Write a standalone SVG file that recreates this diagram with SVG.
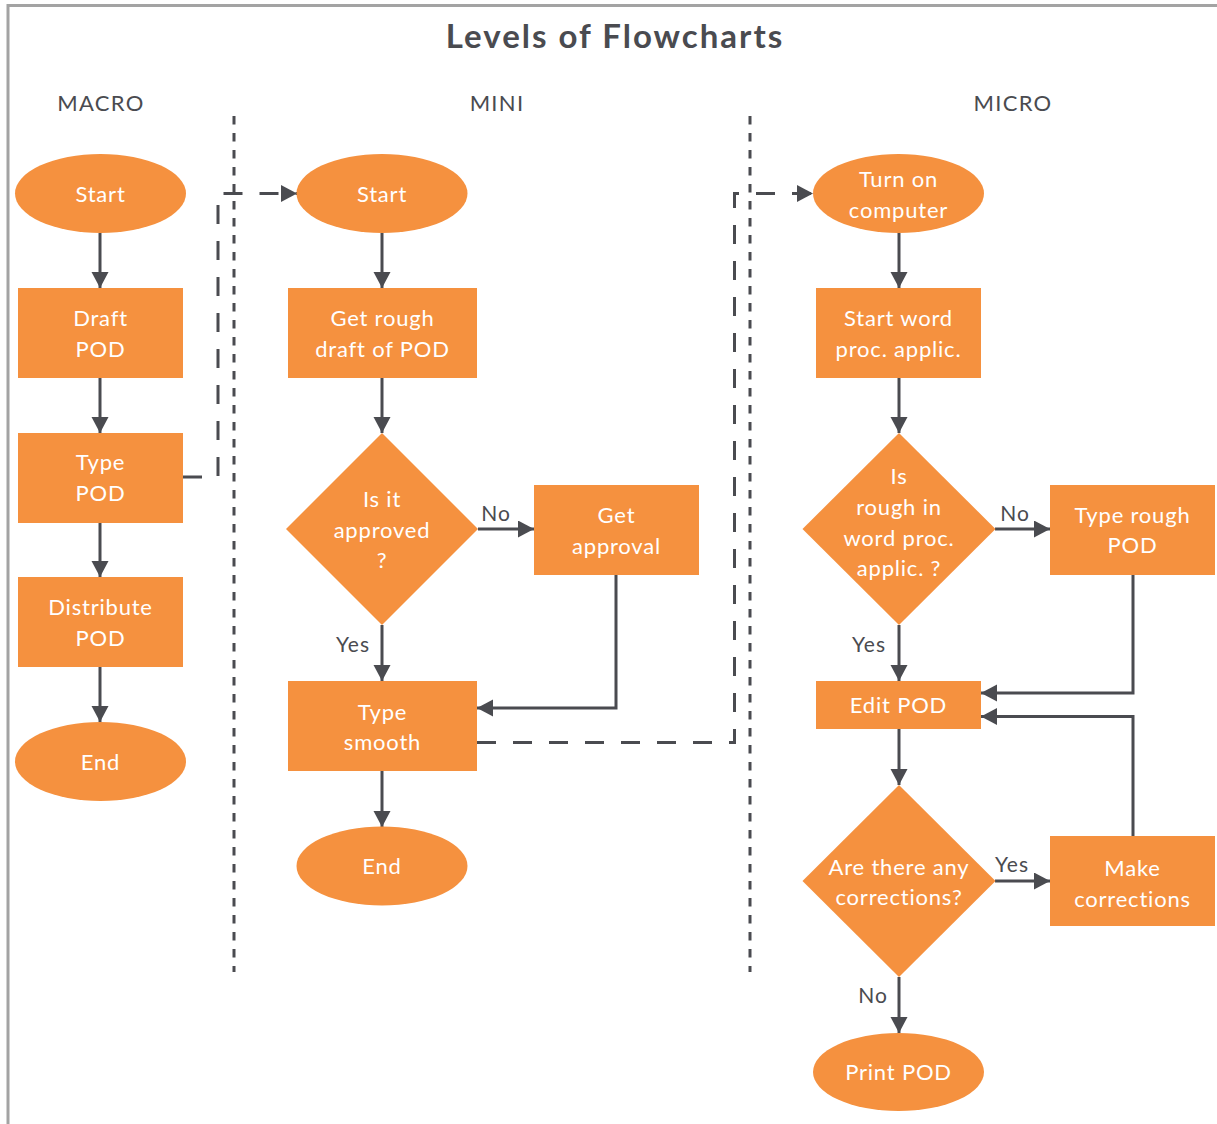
<svg xmlns="http://www.w3.org/2000/svg" width="1217" height="1124" viewBox="0 0 1217 1124">
  <style>
    .shape { fill: #F5913F; }
    .lbl { font-family: Lato, "Open Sans", sans-serif; font-size: 22px; letter-spacing: 0.8px; fill: #ffffff; text-anchor: middle; }
    .cap { font-family: Lato, "Open Sans", sans-serif; font-size: 22px; letter-spacing: 1.3px; fill: #4a4b50; text-anchor: middle; }
    .edge-lbl { font-family: Lato, "Open Sans", sans-serif; font-size: 21px; letter-spacing: 1px; fill: #4a4b50; text-anchor: middle; }
    .title { font-family: Lato, "Open Sans", sans-serif; font-size: 33px; letter-spacing: 2px; font-weight: bold; fill: #4a4b50; text-anchor: middle; }
    .flow { fill: none; stroke: #4a4b50; stroke-width: 3; marker-end: url(#arrow); }
    .jump { fill: none; stroke: #4a4b50; stroke-width: 3; stroke-dasharray: 19 17; marker-end: url(#arrow); }
    .divider { fill: none; stroke: #4a4b50; stroke-width: 3; stroke-dasharray: 8.5 8.5; }
    .frame { fill: none; stroke: #a3a3a3; stroke-width: 3; }
  </style>
  <defs>
    <marker id="arrow" markerUnits="userSpaceOnUse" markerWidth="17" markerHeight="18" refX="16" refY="8.5" orient="auto">
      <path d="M0,0 L16,8.5 L0,17 z" fill="#4a4b50"/>
    </marker>
  </defs>

  <rect width="1217" height="1124" fill="#ffffff"/>

  <!-- page frame (top and left rules) -->
  <path class="frame" d="M8,1124 V5.5 H1217"/>

  <!-- headings -->
  <text class="title" x="615" y="48">Levels of Flowcharts</text>
  <text class="cap" x="101" y="111">MACRO</text>
  <text class="cap" x="497" y="111">MINI</text>
  <text class="cap" x="1013" y="111">MICRO</text>

  <!-- column dividers -->
  <g id="dividers">
    <line class="divider" x1="234" y1="116" x2="234" y2="972"/>
    <line class="divider" x1="750" y1="116" x2="750" y2="972"/>
  </g>

  <!-- connectors -->
  <g id="connectors">
    <!-- macro -->
    <line class="flow" x1="100" y1="233" x2="100" y2="288"/>
    <line class="flow" x1="100" y1="378" x2="100" y2="433"/>
    <line class="flow" x1="100" y1="523" x2="100" y2="577"/>
    <line class="flow" x1="100" y1="667" x2="100" y2="722"/>
    <path class="jump" d="M183,477 H218 V193.5 H297"/>
    <!-- mini -->
    <line class="flow" x1="382" y1="233" x2="382" y2="288"/>
    <line class="flow" x1="382" y1="378" x2="382" y2="433"/>
    <line class="flow" x1="478" y1="529" x2="534" y2="529"/>
    <line class="flow" x1="382" y1="625" x2="382" y2="681"/>
    <path class="flow" d="M616,575 V708 H477"/>
    <line class="flow" x1="382" y1="771" x2="382" y2="827"/>
    <path class="jump" d="M477,742.5 H734.5 V193.5 H813"/>
    <!-- micro -->
    <line class="flow" x1="899" y1="233" x2="899" y2="288"/>
    <line class="flow" x1="899" y1="378" x2="899" y2="433"/>
    <line class="flow" x1="995" y1="529" x2="1050" y2="529"/>
    <line class="flow" x1="899" y1="625" x2="899" y2="681"/>
    <path class="flow" d="M1133,575 V693 H981"/>
    <line class="flow" x1="899" y1="729" x2="899" y2="785"/>
    <line class="flow" x1="995" y1="881" x2="1050" y2="881"/>
    <path class="flow" d="M1133,836 V716.5 H981"/>
    <line class="flow" x1="899" y1="977" x2="899" y2="1033"/>

    <text class="edge-lbl" x="496" y="521">No</text>
    <text class="edge-lbl" x="353" y="652">Yes</text>
    <text class="edge-lbl" x="1015" y="521">No</text>
    <text class="edge-lbl" x="869" y="652">Yes</text>
    <text class="edge-lbl" x="1012" y="872">Yes</text>
    <text class="edge-lbl" x="873" y="1003">No</text>
  </g>

  <!-- macro nodes -->
  <g id="macro-start">
    <ellipse class="shape" cx="100.5" cy="193.5" rx="85.5" ry="39.5"/>
    <text class="lbl" x="100.5" y="201.5">Start</text>
  </g>
  <g id="macro-draft">
    <rect class="shape" x="18" y="288" width="165" height="90"/>
    <text class="lbl" x="100.5" y="326">Draft</text>
    <text class="lbl" x="100.5" y="357">POD</text>
  </g>
  <g id="macro-type">
    <rect class="shape" x="18" y="433" width="165" height="90"/>
    <text class="lbl" x="100.5" y="470">Type</text>
    <text class="lbl" x="100.5" y="501">POD</text>
  </g>
  <g id="macro-distribute">
    <rect class="shape" x="18" y="577" width="165" height="90"/>
    <text class="lbl" x="100.5" y="615">Distribute</text>
    <text class="lbl" x="100.5" y="646">POD</text>
  </g>
  <g id="macro-end">
    <ellipse class="shape" cx="100.5" cy="761.5" rx="85.5" ry="39.5"/>
    <text class="lbl" x="100.5" y="769.5">End</text>
  </g>

  <!-- mini nodes -->
  <g id="mini-start">
    <ellipse class="shape" cx="382" cy="193.5" rx="85.5" ry="39.5"/>
    <text class="lbl" x="382" y="201.5">Start</text>
  </g>
  <g id="mini-rough">
    <rect class="shape" x="288" y="288" width="189" height="90"/>
    <text class="lbl" x="382.5" y="326">Get rough</text>
    <text class="lbl" x="382.5" y="357">draft of POD</text>
  </g>
  <g id="mini-approved">
    <polygon class="shape" points="382,433 478,529 382,625 286,529"/>
    <text class="lbl" x="382" y="507">Is it</text>
    <text class="lbl" x="382" y="538">approved</text>
    <text class="lbl" x="382" y="568">?</text>
  </g>
  <g id="mini-get-approval">
    <rect class="shape" x="534" y="485" width="165" height="90"/>
    <text class="lbl" x="616.5" y="523">Get</text>
    <text class="lbl" x="616.5" y="554">approval</text>
  </g>
  <g id="mini-type-smooth">
    <rect class="shape" x="288" y="681" width="189" height="90"/>
    <text class="lbl" x="382.5" y="720">Type</text>
    <text class="lbl" x="382.5" y="750">smooth</text>
  </g>
  <g id="mini-end">
    <ellipse class="shape" cx="382" cy="866" rx="85.5" ry="39.5"/>
    <text class="lbl" x="382" y="874">End</text>
  </g>

  <!-- micro nodes -->
  <g id="micro-turn-on">
    <ellipse class="shape" cx="898.5" cy="193.5" rx="85.5" ry="39.5"/>
    <text class="lbl" x="898.5" y="187">Turn on</text>
    <text class="lbl" x="898.5" y="218">computer</text>
  </g>
  <g id="micro-start-wp">
    <rect class="shape" x="816" y="288" width="165" height="90"/>
    <text class="lbl" x="898.5" y="326">Start word</text>
    <text class="lbl" x="898.5" y="357">proc. applic.</text>
  </g>
  <g id="micro-in-wp">
    <polygon class="shape" points="899,433 995.5,529 899,625 802.5,529"/>
    <text class="lbl" x="899" y="484">Is</text>
    <text class="lbl" x="899" y="515">rough in</text>
    <text class="lbl" x="899" y="546">word proc.</text>
    <text class="lbl" x="899" y="576">applic. ?</text>
  </g>
  <g id="micro-type-rough">
    <rect class="shape" x="1050" y="485" width="165" height="90"/>
    <text class="lbl" x="1132.5" y="523">Type rough</text>
    <text class="lbl" x="1132.5" y="553">POD</text>
  </g>
  <g id="micro-edit">
    <rect class="shape" x="816" y="681" width="165" height="48"/>
    <text class="lbl" x="898.5" y="713">Edit POD</text>
  </g>
  <g id="micro-corrections-q">
    <polygon class="shape" points="899,785 995.5,881 899,977 802.5,881"/>
    <text class="lbl" x="899" y="875">Are there any</text>
    <text class="lbl" x="899" y="905">corrections?</text>
  </g>
  <g id="micro-make-corrections">
    <rect class="shape" x="1050" y="836" width="165" height="90"/>
    <text class="lbl" x="1132.5" y="876">Make</text>
    <text class="lbl" x="1132.5" y="907">corrections</text>
  </g>
  <g id="micro-print">
    <ellipse class="shape" cx="898.5" cy="1072" rx="85.5" ry="39"/>
    <text class="lbl" x="898.5" y="1080">Print POD</text>
  </g>
</svg>
